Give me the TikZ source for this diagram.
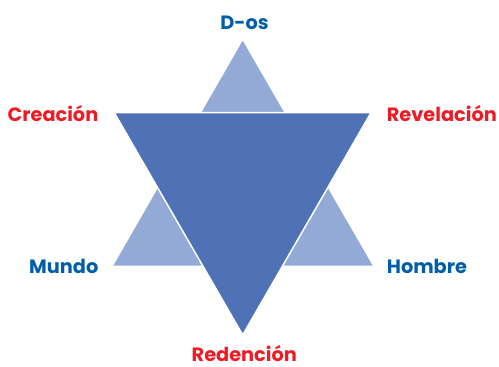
\documentclass[tikz,border=0pt]{standalone}
\usepackage{fontspec}
\setmainfont{Poppins}
\usepackage{tikz}
\usetikzlibrary{positioning}

\definecolor{starDark}{RGB}{79,114,182}
\definecolor{starLight}{RGB}{147,170,214}
\definecolor{labBlue}{RGB}{0,94,168}
\definecolor{labRed}{RGB}{237,28,36}

\begin{document}
\begin{tikzpicture}[
  x=1pt, y=-1pt,
  lab/.style  = {font=\fontsize{19.3}{22}\selectfont\bfseries, inner sep=0pt},
  blab/.style = {lab, text=labBlue},
  rlab/.style = {lab, text=labRed},
]
  \useasboundingbox (0,0) rectangle (499,367);

  % upward triangle
  \coordinate (uTop)   at (242.7,40.7);
  \coordinate (uLeft)  at (113.3,265.7);
  \coordinate (uRight) at (372.7,265.7);
  % downward triangle
  \coordinate (dLeft)  at (114.3,112.7);
  \coordinate (dRight) at (371,112.7);
  \coordinate (dBot)   at (242.7,335);

  \fill[starLight] (uTop) -- (uLeft) -- (uRight) -- cycle;
  \filldraw[fill=starDark, draw=white, line width=1.5pt, line join=miter]
      (dLeft) -- (dRight) -- (dBot) -- cycle;

  \node[blab, anchor=base]      (dios)   at (244.5,29.3)  {D-os};
  \node[rlab, anchor=base east] (crea)   at (98.5,121.7)  {Creación};
  \node[rlab, anchor=base west] (revel)  at (386.7,121.7) {Revelación};
  \node[blab, anchor=base east] (mundo)  at (98.5,273.3)  {Mundo};
  \node[blab, anchor=base west] (hombre) at (386.7,273.3) {Hombre};
  \node[rlab, anchor=base]      (reden)  at (244.3,361.5) {Redención};
\end{tikzpicture}
\end{document}
